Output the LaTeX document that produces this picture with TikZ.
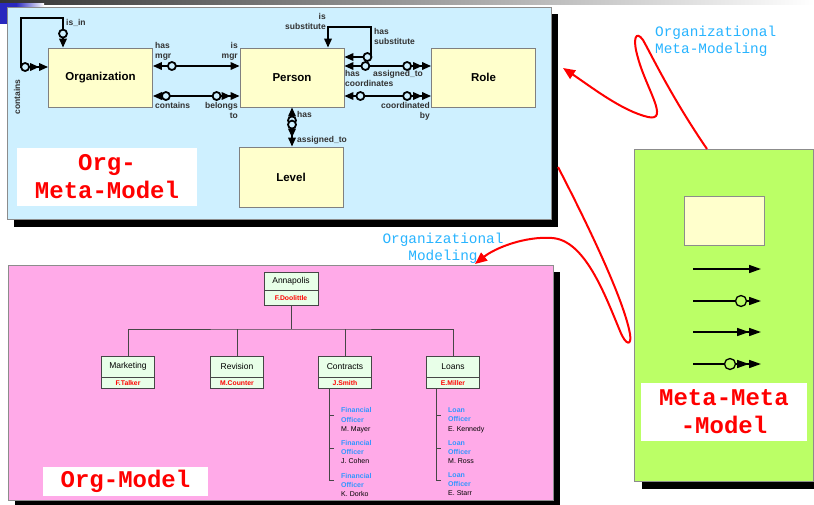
\documentclass[tikz,border=0pt]{standalone}
\usepackage{fontspec}
\setmainfont{Liberation Sans}
\newfontfamily\monofont{Liberation Mono}
\usetikzlibrary{arrows.meta,decorations.markings,calc}

\definecolor{topfill}{RGB}{206,240,255}
\definecolor{boxfill}{RGB}{255,255,204}
\definecolor{boxline}{RGB}{128,128,128}
\definecolor{pinkfill}{RGB}{255,170,232}
\definecolor{greenfill}{RGB}{187,255,102}
\definecolor{panelline}{RGB}{140,140,140}
\definecolor{orgfill}{RGB}{232,255,232}
\definecolor{orgline}{RGB}{70,70,70}
\definecolor{skyblue}{RGB}{40,180,255}
\definecolor{roleblue}{RGB}{50,150,255}
\definecolor{bannerblue}{RGB}{40,40,190}
\definecolor{labelgray}{RGB}{50,50,50}

\tikzset{
  Tri/.tip={Triangle[length=9pt,width=7.5pt]},
  GTri/.tip={Triangle[length=12pt,width=8pt]},
  RTri/.tip={Triangle[length=12pt,width=10pt]},
  panel/.style={draw=panelline, line width=0.8pt},
  entity/.style={draw=boxline, fill=boxfill, line width=0.8pt, minimum width=104pt,
    minimum height=59pt, inner sep=0pt, font=\bfseries\fontsize{11.5}{13}\selectfont},
  lbl/.style={font=\bfseries\fontsize{8.5}{10.5}\selectfont, inner sep=0pt, text=labelgray},
  conn/.style={line width=1.8pt, draw=black},
  gconn/.style={line width=1.5pt, draw=black},
  ringT/.style={circle, draw=black, line width=1.8pt, fill=topfill, minimum size=8pt, inner sep=0pt},
  ringG/.style={circle, draw=black, line width=1.3pt, fill=greenfill, minimum size=11pt, inner sep=0pt},
  rT/.style={postaction={decorate, decoration={markings, mark=at position #1 with {\node[ringT]{};}}}},
  rG/.style={postaction={decorate, decoration={markings, mark=at position #1 with {\node[ringG]{};}}}},
  title/.style={fill=white, inner sep=0pt, text=red, align=center,
    font=\monofont\bfseries\fontsize{24}{28}\selectfont},
  note/.style={text=skyblue, inner sep=0pt, font=\monofont\fontsize{14.4}{17}\selectfont},
  redcurve/.style={draw=red, line width=2pt, -{RTri}},
  otop/.style={draw=orgline, fill=orgfill, line width=0.9pt, inner sep=0pt,
    font=\fontsize{8.5}{10}\selectfont},
  obot/.style={draw=orgline, fill=orgfill, line width=0.9pt, inner sep=0pt, text=red,
    font=\bfseries\fontsize{6.8}{8}\selectfont},
  orgl/.style={draw=orgline, line width=0.9pt},
  staff/.style={inner sep=0pt, align=left, font=\fontsize{7}{9.3}\selectfont}
}

\begin{document}
\begin{tikzpicture}[x=1pt, y=-1pt]
\useasboundingbox (0,0) rectangle (814,504);
\clip (0,0) rectangle (814,504);
\fill[white] (0,0) rectangle (814,504);

% banner strip along the top
\shade[left color=black!80, right color=white] (0,0) rectangle (814,4);
\fill[bannerblue] (0,3) rectangle (16,24);
\shade[left color=bannerblue, right color=white] (16,3) rectangle (44,7);

% ---------- meta-model panel ----------
\fill[black] (14,14) rectangle (558,227);
\draw[panel, fill=topfill] (7,7) rectangle (551,219);

\node[entity] (org)    at (100.5,77.5) {Organization};
\node[entity] (person) at (292,77.5)   {Person};
\node[entity] (role)   at (483.5,77.5) {Role};
\node[entity, minimum height=60pt] (level) at (291,177) {Level};

% Organization loop: contains / is_in
\draw[conn, {Tri[] Tri[]}-{Tri[]}, rT=23pt, rT=-14pt]
  (org.west |- 0,67) -| (21,18) -| (org.north -| 63,0);
\node[lbl, anchor=west] at (66,23) {is\_in};
\node[lbl, rotate=90] at (17,97) {contains};

% Organization -- Person
\draw[conn, {Tri[]}-{Tri[]}, rT=19pt] (org.east |- 0,66) -- (person.west |- 0,66);
\node[lbl, anchor=north west, align=left] at (155,42) {has\\mgr};
\node[lbl, anchor=north east, align=right] at (238,42) {is\\mgr};
\draw[conn, {Tri[]}-{Tri[] Tri[]}, rT=13pt, rT=-23pt] (org.east |- 0,96) -- (person.west |- 0,96);
\node[lbl, anchor=north west] at (155,102) {contains};
\node[lbl, anchor=north east, align=right] at (238,102) {belongs\\to};

% Person loop: is / has substitute
\draw[conn, {Tri[]}-{Tri[]}, rT=23pt]
  (person.east |- 0,57) -| (371,27) -| (person.north -| 328,0);
\node[lbl, anchor=north east, align=right] at (326,13) {is\\substitute};
\node[lbl, anchor=north west, align=left] at (374,28) {has\\substitute};

% Person -- Role
\draw[conn, {Tri[]}-{Tri[] Tri[]}, rT=21pt, rT=-24pt] (person.east |- 0,66) -- (role.west |- 0,66);
\node[lbl, anchor=north west] at (373,70) {assigned\_to};
\node[lbl, anchor=north west, align=left] at (345,70) {has\\coordinates};
\draw[conn, {Tri[]}-{Tri[] Tri[]}, rT=16pt, rT=-24pt] (person.east |- 0,96) -- (role.west |- 0,96);
\node[lbl, anchor=north east, align=right] at (430,102) {coordinated\\by};

% Person -- Level
\draw[conn, {Tri[]}-{Tri[] Tri[]}, rT=13pt, rT=-22pt] (person.south) -- (person.south |- level.north);
\node[lbl, anchor=west] at (297,114) {has};
\node[lbl, anchor=west] at (297,140) {assigned\_to};

\node[title, minimum width=180pt, minimum height=58pt] (omm) at (107,177) {Org-\\Meta-Model};

% ---------- organisation panel ----------
\fill[black] (15,272) rectangle (560,507);
\draw[panel, fill=pinkfill] (8,265) rectangle (553,500);

\node[otop, minimum width=54pt, minimum height=18pt] (ann) at (291,281) {Annapolis};
\node[obot, minimum width=54pt, minimum height=15pt, anchor=north] (annN) at (ann.south) {F.Doolittle};

\node[otop, minimum width=53pt, minimum height=21pt] (mkt) at (128,366.5) {Marketing};
\node[obot, minimum width=53pt, minimum height=11pt, anchor=north] (mktN) at (mkt.south) {F.Talker};
\node[otop, minimum width=53pt, minimum height=21pt] (rev) at (237,366.5) {Revision};
\node[obot, minimum width=53pt, minimum height=11pt, anchor=north] (revN) at (rev.south) {M.Counter};
\node[otop, minimum width=53pt, minimum height=21pt] (ctr) at (345,366.5) {Contracts};
\node[obot, minimum width=53pt, minimum height=11pt, anchor=north] (ctrN) at (ctr.south) {J.Smith};
\node[otop, minimum width=53pt, minimum height=21pt] (lns) at (453,366.5) {Loans};
\node[obot, minimum width=53pt, minimum height=11pt, anchor=north] (lnsN) at (lns.south) {E.Miller};

\coordinate (bus) at (291,329);
\draw[orgl] (annN.south) -- (bus);
\draw[orgl] (mkt.north) |- (bus) -| (lns.north);
\draw[orgl] (rev.north) -- (rev.north |- bus);
\draw[orgl] (ctr.north) -- (ctr.north |- bus);

% staff lists
\coordinate (cs) at ($(ctrN.south west)+(11,0)$);
\draw[orgl] (cs) -- (cs |- 0,480) -- ++(5,0);
\draw[orgl] (cs |- 0,415) -- ++(5,0);
\draw[orgl] (cs |- 0,448) -- ++(5,0);
\coordinate (ls) at ($(lnsN.south west)+(10,0)$);
\draw[orgl] (ls) -- (ls |- 0,480) -- ++(5,0);
\draw[orgl] (ls |- 0,415) -- ++(5,0);
\draw[orgl] (ls |- 0,448) -- ++(5,0);

\node[staff, anchor=north west] (c1) at (341,407.5) {\textcolor{roleblue}{\bfseries Financial}\\\textcolor{roleblue}{\bfseries Officer}\\M. Mayer};
\node[staff, anchor=north west] (c2) at (341,440) {\textcolor{roleblue}{\bfseries Financial}\\\textcolor{roleblue}{\bfseries Officer}\\J. Cohen};
\node[staff, anchor=north west] (c3) at (341,473) {\textcolor{roleblue}{\bfseries Financial}\\\textcolor{roleblue}{\bfseries Officer}\\K. Dorko};
\node[staff, anchor=north west] (l1) at (448,407.5) {\textcolor{roleblue}{\bfseries Loan}\\\textcolor{roleblue}{\bfseries Officer}\\E. Kennedy};
\node[staff, anchor=north west] (l2) at (448,440) {\textcolor{roleblue}{\bfseries Loan}\\\textcolor{roleblue}{\bfseries Officer}\\M. Ross};
\node[staff, anchor=north west] (l3) at (448,472) {\textcolor{roleblue}{\bfseries Loan}\\\textcolor{roleblue}{\bfseries Officer}\\E. Starr};

\node[title, minimum width=165pt, minimum height=29pt] (om) at (125.5,481.5) {Org-Model};

% ---------- meta-meta-model panel ----------
\fill[black] (642,157) rectangle (821,489);
\draw[panel, fill=greenfill] (634,149) rectangle (813,481);
\node[draw=panelline, fill=boxfill, line width=0.8pt, minimum width=80pt, minimum height=49pt, inner sep=0pt] (mbox) at (724,220.5) {};

\coordinate (g1a) at (693,269); \coordinate (g1b) at (761,269);
\coordinate (g2a) at (693,301); \coordinate (g2b) at (761,301);
\coordinate (g3a) at (693,332); \coordinate (g3b) at (761,332);
\coordinate (g4a) at (693,364); \coordinate (g4b) at (761,364);
\draw[gconn, -{GTri[]}] (g1a) -- (g1b);
\draw[gconn, -{GTri[]}, rG=-20pt] (g2a) -- (g2b);
\draw[gconn, -{GTri[] GTri[]}] (g3a) -- (g3b);
\draw[gconn, -{GTri[] GTri[]}, rG=-31pt] (g4a) -- (g4b);

\node[title, minimum width=166pt, minimum height=58pt] (mmm) at (724,412) {Meta-Meta\\-Model};

% ---------- modelling relations ----------
\node[note, anchor=north west, align=left] (n1) at (655,26) {Organizational\\Meta-Modeling};
\node[note, anchor=north, align=center] (n2) at (443,233) {Organizational\\Modeling};

\coordinate (r1s) at (707,149);
\coordinate (r1e) at (563,68);
\draw[redcurve] (r1s) .. controls (672,98) and (652,56) .. (643,40)
  .. controls (636,30) and (632,38) .. (638,58)
  .. controls (646,88) and (670,122) .. (648,117)
  .. controls (622,111) and (590,86) .. (r1e);

\coordinate (r2s) at (558,167);
\coordinate (r2e) at (475,264);
\draw[redcurve] (r2s) .. controls (588,225) and (624,300) .. (630,334)
  .. controls (632,346) and (626,346) .. (620,331)
  .. controls (605,295) and (585,240) .. (552,238)
  .. controls (525,236) and (495,248) .. (r2e);
\end{tikzpicture}
\end{document}
